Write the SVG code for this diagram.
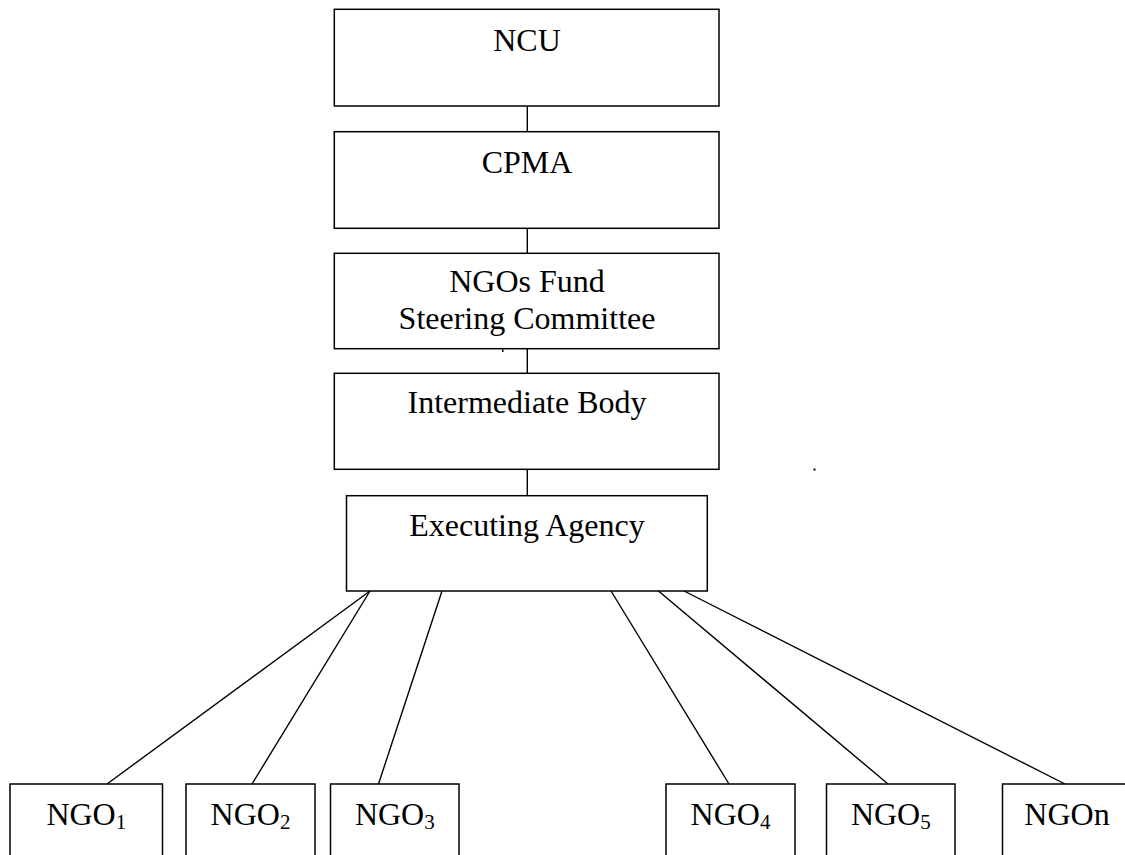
<svg xmlns="http://www.w3.org/2000/svg" width="1125" height="855" viewBox="0 0 1125 855">
<style>
.box{fill:#fff;stroke:#000;stroke-width:1.5}
.ln{stroke:#000;stroke-width:1.4;fill:none}
.t{font-family:"Liberation Serif","Times New Roman",serif;font-size:32px;fill:#000;text-anchor:middle}
.sub{font-size:21px}
</style>
<rect width="1125" height="855" fill="#fff"/>
<g id="connectors">
<line class="ln" x1="527.3" y1="106" x2="527.3" y2="131.7"/>
<line class="ln" x1="527.3" y1="228.3" x2="527.3" y2="253.3"/>
<line class="ln" x1="527.3" y1="348.7" x2="527.3" y2="373.3"/>
<line class="ln" x1="527.3" y1="469.3" x2="527.3" y2="495.7"/>
<line class="ln" x1="370" y1="591" x2="107" y2="784"/>
<line class="ln" x1="370" y1="591" x2="252" y2="784"/>
<line class="ln" x1="442" y1="591" x2="378.5" y2="784"/>
<line class="ln" x1="611" y1="591" x2="729" y2="784"/>
<line class="ln" x1="658.5" y1="591" x2="888" y2="784"/>
<line class="ln" x1="684" y1="591" x2="1065" y2="784"/>
</g>
<g id="ncu">
<rect class="box" x="334.3" y="9.3" width="384.7" height="96.7"/>
<text class="t" x="527" y="50.7">NCU</text>
</g>
<g id="cpma">
<rect class="box" x="334.3" y="131.7" width="384.7" height="96.6"/>
<text class="t" x="527" y="172.7">CPMA</text>
</g>
<g id="steering">
<rect class="box" x="334.3" y="253.3" width="384.7" height="95.4"/>
<text class="t" x="527" y="291.7">NGOs Fund</text>
<text class="t" x="527" y="329.3">Steering Committee</text>
</g>
<g id="intermediate">
<rect class="box" x="334.3" y="373.3" width="384.7" height="96"/>
<text class="t" x="527" y="413.3">Intermediate Body</text>
</g>
<g id="executing">
<rect class="box" x="346.5" y="495.7" width="360.8" height="95.3"/>
<text class="t" x="527" y="536">Executing Agency</text>
</g>
<g id="ngo1">
<rect class="box" x="10" y="784" width="152.5" height="100"/>
<text class="t" x="86.3" y="825">NGO<tspan class="sub" dy="4">1</tspan></text>
</g>
<g id="ngo2">
<rect class="box" x="186" y="784" width="129" height="100"/>
<text class="t" x="250.5" y="825">NGO<tspan class="sub" dy="4">2</tspan></text>
</g>
<g id="ngo3">
<rect class="box" x="330.5" y="784" width="128.5" height="100"/>
<text class="t" x="394.8" y="825">NGO<tspan class="sub" dy="4">3</tspan></text>
</g>
<g id="ngo4">
<rect class="box" x="666" y="784" width="129" height="100"/>
<text class="t" x="730.5" y="825">NGO<tspan class="sub" dy="4">4</tspan></text>
</g>
<g id="ngo5">
<rect class="box" x="826.5" y="784" width="128.5" height="100"/>
<text class="t" x="890.8" y="825">NGO<tspan class="sub" dy="4">5</tspan></text>
</g>
<g id="ngon">
<rect class="box" x="1002.5" y="784" width="129" height="100"/>
<text class="t" x="1067" y="825">NGOn</text>
</g>
<g id="specks">
<rect x="502" y="349.5" width="1.5" height="2.5" fill="#000"/>
<rect x="813.5" y="468.5" width="2" height="2" fill="#000"/>
</g>
</svg>
